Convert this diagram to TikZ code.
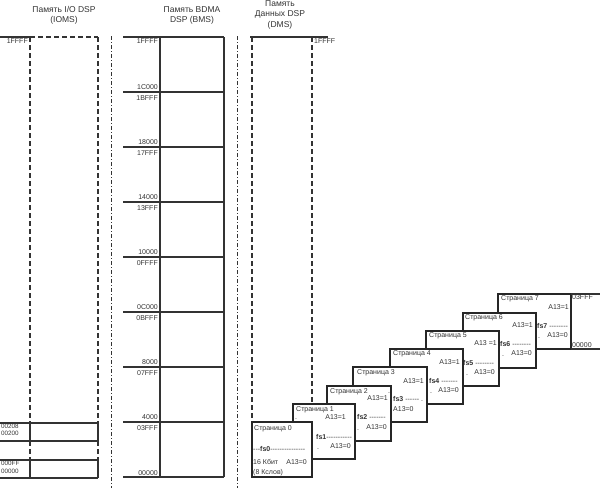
\documentclass[tikz,border=0pt]{standalone}
\usepackage{fontspec}
\setmainfont{Liberation Sans}
\newcommand\hyrun[1]{\foreach\hyi in {1,...,#1}{\mbox{-}}}
\begin{document}
\begin{tikzpicture}[x=1pt,y=-1pt,
  ln/.style={line width=1.1pt, draw=black!80},
  dsh/.style={ln, dash pattern=on 5pt off 3pt},
  sep/.style={line width=0.8pt, draw=black!80, dash pattern=on 4pt off 2pt on 1pt off 2pt},
  pagebox/.style={draw=black!85, line width=1.4pt, fill=white, minimum height=55pt, anchor=north west, inner sep=0pt, outer sep=0pt},
  txt/.style={inner sep=0pt, text=black!80, font=\fontsize{7}{8}\selectfont},
  lw/.style={txt, anchor=base west},
  le/.style={txt, anchor=base east},
  small/.style={inner sep=0pt, text=black!80, font=\fontsize{6.3}{7}\selectfont, anchor=base west},
  head/.style={inner sep=0pt, text=black!80, font=\fontsize{8.5}{10.5}\selectfont, align=center}
]
\useasboundingbox (0,0) rectangle (600,488);

% headers
\node[head] (hI) at (64,15.5) {Память I/O DSP\\(IOMS)};
\node[head] (hB) at (192,15.5) {Память BDMA\\DSP (BMS)};
\node[head] (hD) at (280,14.5) {Память\\Данных DSP\\(DMS)};

% separators
\draw[sep] (111,36) -- (111,488);
\draw[sep] (237,36) -- (237,488);

% IOMS
\draw[ln] (0,37) -- (30,37);
\draw[dsh] (30,37) -- (98,37);
\draw[dsh] (30,37) -- (30,423);
\draw[dsh] (98,37) -- (98,423);
\draw[ln] (0,423) -- (98,423);
\draw[ln] (0,441) -- (98,441);
\draw[ln] (30,423) -- (30,441);
\draw[ln] (98,423) -- (98,441);
\draw[dsh] (30,441) -- (30,460);
\draw[dsh] (98,441) -- (98,460);
\draw[ln] (0,460) -- (98,460);
\draw[ln] (0,478) -- (98,478);
\draw[ln] (30,460) -- (30,478);
\draw[ln] (98,460) -- (98,478);
\node[le] (i0) at (28,43.5) {1FFFF};
\node[small] (i1) at (1,428) {00208};
\node[small] (i2) at (1,435.5) {00200};
\node[small] (i3) at (1,465.5) {000FF};
\node[small] (i4) at (1,473.5) {00000};

% BMS
\draw[ln] (123,37) -- (224,37);
\draw[ln] (160,37) -- (160,477);
\draw[ln] (224,37) -- (224,477);
\foreach \yy in {92,147,...,477} \draw[ln] (123,\yy) -- (224,\yy);
\node[le] (b0) at (158,43.5) {1FFFF};
\foreach \yy/\up/\dn [count=\k] in {92/1C000/1BFFF, 147/18000/17FFF, 202/14000/13FFF, 257/10000/0FFFF, 312/0C000/0BFFF, 367/8000/07FFF, 422/4000/03FFF} {
  \node[le] (bu\k) at (158,\yy-2.5) {\up};
  \node[le] (bd\k) at (158,\yy+8) {\dn};
}
\node[le] (bz) at (158,475.5) {00000};

% DMS
\draw[ln] (250,37) -- (328,37);
\draw[dsh] (252,37) -- (252,422);
\draw[dsh] (312,37) -- (312,422);
\node[lw] (d0) at (314,43.5) {1FFFF};

% page 7
\node[pagebox, minimum width=73pt] (p7) at (498,294) {};
\coordinate (e7a) at (600,294);
\coordinate (e7b) at (600,349);
\draw[ln] (p7.north east) -- (e7a);
\draw[ln] (p7.south east) -- (e7b);
\node[lw] (t7) at (501,300.5) {Страница 7};
\node[le] (a7) at (569,309.5) {A13=1};
\node[lw] (f7) at (537,328.5) {\textbf{fs7} \hyrun{8}};
\node[lw] (o7) at (538,338) {.};
\node[le] (z7) at (568,337.5) {A13=0};
\node[lw] (r7a) at (572,299) {03FFF};
\node[lw] (r7b) at (572,347) {00000};

% page 6
\node[pagebox, minimum width=73pt] (p6) at (463,313) {};
\node[lw] (t6) at (465,319.5) {Страница 6};
\node[le] (a6) at (533,327.5) {A13=1};
\node[lw] (f6) at (500,346.5) {\textbf{fs6} \hyrun{8}};
\node[lw] (o6) at (502,356) {.};
\node[le] (z6) at (532,355.5) {A13=0};

% page 5
\node[pagebox, minimum width=73pt] (p5) at (426,331) {};
\node[lw] (t5) at (429,337.5) {Страница 5};
\node[le] (a5) at (497,345.5) {A13 =1};
\node[lw] (f5) at (463,365.5) {\textbf{fs5} \hyrun{8}};
\node[lw] (o5) at (466,375) {.};
\node[le] (z5) at (495,374.5) {A13=0};

% page 4
\node[pagebox, minimum width=73pt] (p4) at (390,349) {};
\node[lw] (t4) at (393,355.5) {Страница 4};
\node[le] (a4) at (460,364.5) {A13=1};
\node[lw] (f4) at (429,383.5) {\textbf{fs4} \hyrun{7}};
\node[lw] (o4) at (430,393) {.};
\node[le] (z4) at (459,392.5) {A13=0};

% page 3
\node[pagebox, minimum width=74pt] (p3) at (353,367) {};
\node[lw] (t3) at (357,374.5) {Страница 3};
\node[le] (a3) at (424,383.5) {A13=1};
\node[lw] (f3) at (393,401.5) {\textbf{fs3} \hyrun{6} .};
\node[lw] (z3) at (393,411.5) {A13=0};

% page 2
\node[pagebox, minimum width=64pt] (p2) at (327,386) {};
\node[lw] (t2) at (330,393.5) {Страница 2};
\node[lw] (o2a) at (388,393.5) {.};
\node[le] (a2) at (388,400.5) {A13=1};
\node[lw] (f2) at (357,419.5) {\textbf{fs2} \hyrun{7}};
\node[lw] (o2) at (357,430) {.};
\node[le] (z2) at (387,429.5) {A13=0};

% page 1
\node[pagebox, minimum width=62pt] (p1) at (293,404) {};
\node[lw] (t1) at (296,411.5) {Страница 1};
\node[lw] (o1a) at (295,419) {.};
\node[le] (a1) at (346,419.5) {A13=1};
\node[lw] (f1) at (316,439.5) {\textbf{fs1}\hyrun{11}};
\node[lw] (o1) at (317,449) {.};
\node[le] (z1) at (351,448.5) {A13=0};

% page 0
\node[pagebox, minimum width=60pt] (p0) at (252,422) {};
\node[lw] (t0) at (254,430.5) {Страница 0};
\node[lw] (f0) at (253,451.5) {\hyrun{3}\textbf{fs0}\hyrun{15}};
\node[lw] (k0) at (253,464.5) {16 Кбит};
\node[le] (z0) at (307,464.5) {A13=0};
\node[lw] (w0) at (253,474.5) {(8 Кслов)};
\end{tikzpicture}
\end{document}
